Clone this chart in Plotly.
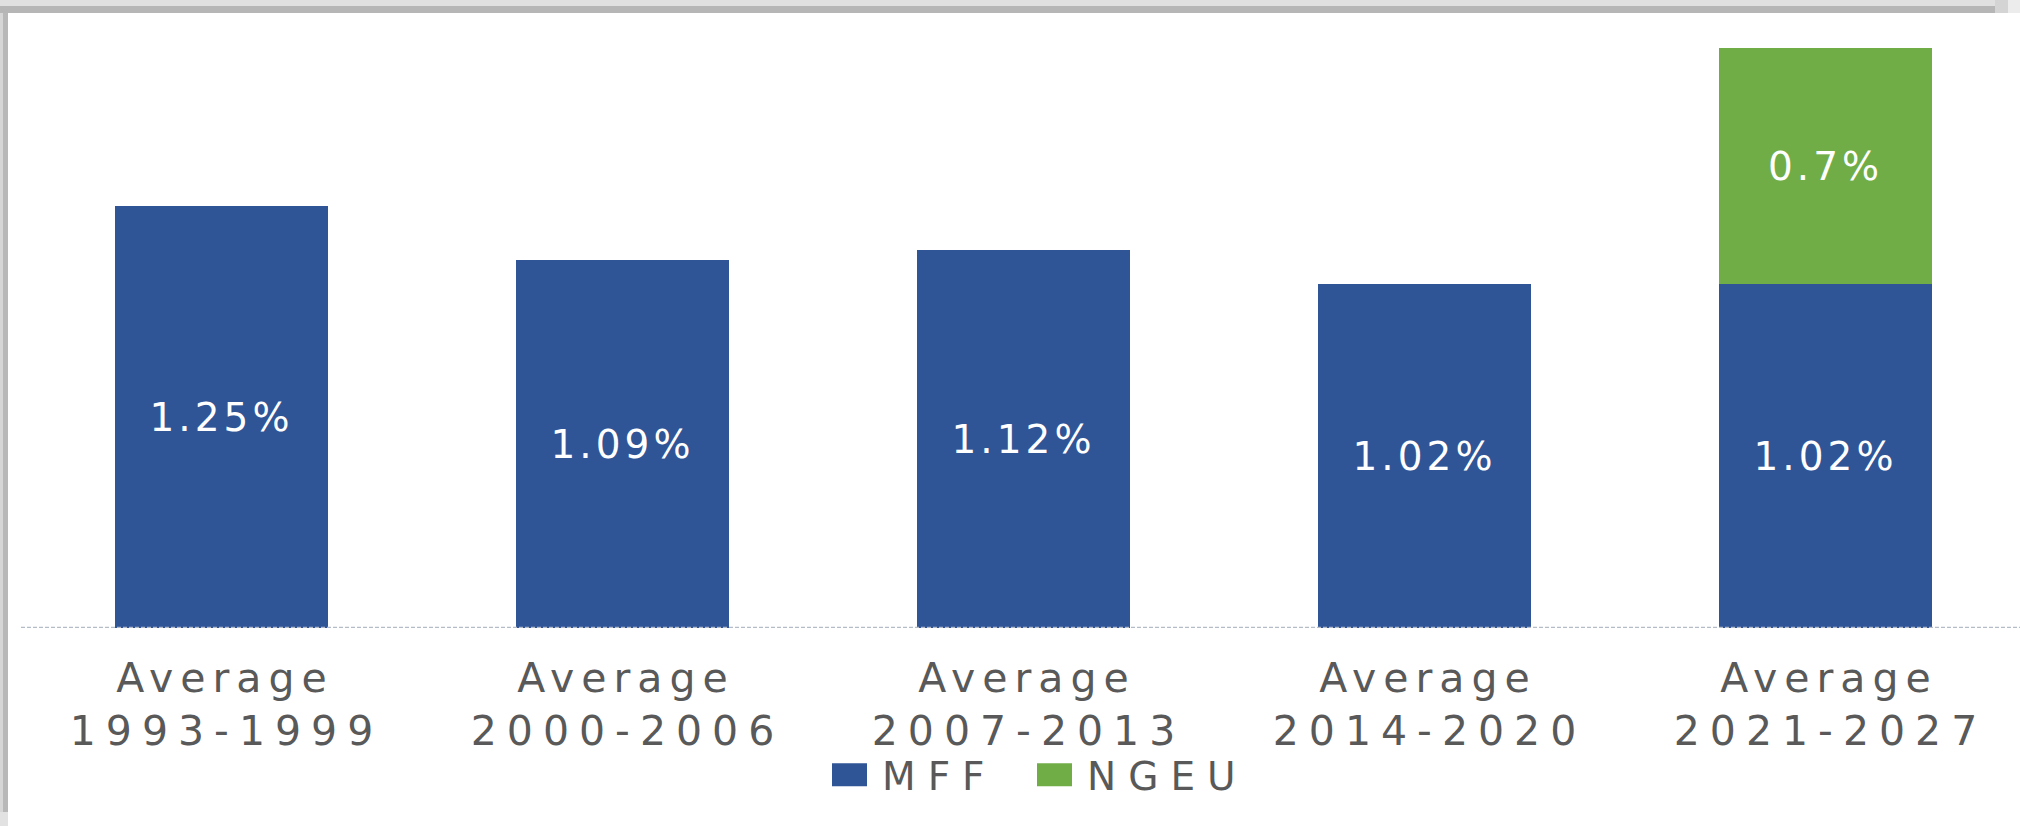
import plotly.graph_objects as go

# ---- data ----
categories = ["Average<br>1993-1999", "Average<br>2000-2006", "Average<br>2007-2013",
              "Average<br>2014-2020", "Average<br>2021-2027"]
mff_values = [1.25, 1.09, 1.12, 1.02, 1.02]
ngeu_values = [None, None, None, None, 0.7]
mff_labels = ["1.25%", "1.09%", "1.12%", "1.02%", "1.02%"]
ngeu_labels = ["", "", "", "", "0.7%"]

# ---- layout constants ----
W, H = 2020, 826
ML, MR, MT, MB = 21, 0, 21, 198
PW = W - ML - MR
PH = H - MT - MB
BLUE = "#2F5597"
GREEN = "#70AD47"
GREY_TXT = "#595959"
FONT = "DejaVu Sans"


def px_x(px):
    return (px - ML) / PW


def px_y(py):
    return (H - MB - py) / PH


fig = go.Figure()
fig.add_trace(go.Bar(
    name="MFF", x=categories, y=mff_values, marker=dict(color=BLUE, line=dict(width=0)),
    text=mff_labels, textposition="inside", insidetextanchor="middle",
    textfont=dict(family=FONT, size=39, color="white"), hoverinfo="skip",
))
fig.add_trace(go.Bar(
    name="NGEU", x=categories, y=ngeu_values, marker=dict(color=GREEN, line=dict(width=0)),
    text=ngeu_labels, textposition="inside", insidetextanchor="middle",
    textfont=dict(family=FONT, size=39, color="white"), hoverinfo="skip",
))

shapes = []
# baseline (axis line)
shapes.append(dict(type="line", xref="paper", yref="y", x0=0, x1=1, y0=0, y1=0,
                   line=dict(color="#b4bcc8", width=2.5, dash="4px,2px"), layer="above"))
# frame shadow bands
for (x0, x1, y0, y1, c) in [
    (0, 1995, 0, 6, "#e0e0e0"), (0, 1995, 6, 13, "#b6b6b6"),
    (1995, 2008, 0, 13, "#d4d4d4"), (2008, 2020, 0, 13, "#ececec"),
    (0, 3, 13, 812, "#d6d6d6"), (3, 8, 13, 812, "#b8b8b8"),
    (0, 8, 812, 826, "#e2e2e2"),
]:
    shapes.append(dict(type="rect", xref="paper", yref="paper",
                       x0=px_x(x0), x1=px_x(x1), y0=px_y(y1), y1=px_y(y0),
                       fillcolor=c, line=dict(width=0), layer="above"))

fig.update_layout(
    width=W, height=H,
    margin=dict(l=ML, r=MR, t=MT, b=MB, pad=0),
    barmode="stack", bargap=0.47,
    paper_bgcolor="white", plot_bgcolor="white",
    font=dict(family=FONT, color=GREY_TXT),
    showlegend=True,
    legend=dict(orientation="h", traceorder="normal",
                x=px_x(829.5), xanchor="left", y=px_y(775), yanchor="middle",
                font=dict(family=FONT, size=39, color=GREY_TXT),
                entrywidth=160, bgcolor="rgba(0,0,0,0)", borderwidth=0),
    xaxis=dict(type="category", range=[-0.5, 4.485], showgrid=False, zeroline=False,
               showline=False, ticks="", ticklabelstandoff=22,
               tickfont=dict(family=FONT, size=41, color=GREY_TXT)),
    yaxis=dict(range=[0, 1.8], visible=False, showgrid=False, zeroline=False),
    shapes=shapes,
)

post = """
var gd = document.getElementById('{plot_id}');
gd.querySelectorAll('.xtick text').forEach(function(t){
  var ls = t.querySelectorAll('tspan.line');
  var sp = [7, 10];
  for (var i = 0; i < ls.length; i++) {
    var s = sp[Math.min(i, 1)];
    ls[i].style.letterSpacing = s + 'px';
    ls[i].setAttribute('dx', s / 2);
  }
});
gd.querySelectorAll('text.bartext').forEach(function(t){ t.style.letterSpacing = '4px'; });
gd.querySelectorAll('.legend [clip-path]').forEach(function(e){ e.removeAttribute('clip-path'); });
gd.querySelectorAll('.legendtext').forEach(function(t){
  t.style.letterSpacing = '12px';
  var x = parseFloat(t.getAttribute('x') || '40');
  t.setAttribute('x', x + 12.5);
});
gd.querySelectorAll('.legendpoints path').forEach(function(p){
  p.setAttribute('d', 'M17.5,11.5H-17.5V-11.5H17.5Z');
});
"""
fig.write_html("out.html", post_script=post)
